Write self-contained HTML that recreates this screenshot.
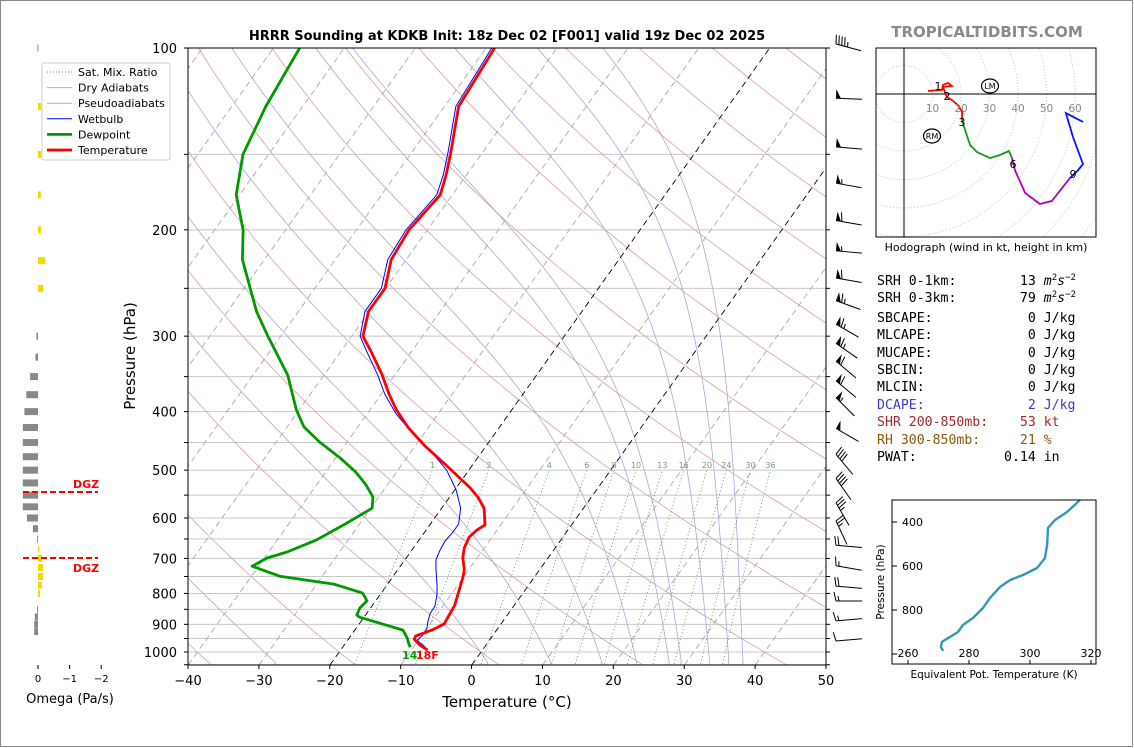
<!DOCTYPE html>
<html><head><meta charset="utf-8">
<style>
html,body{margin:0;padding:0;background:#fff;}
#wrap{position:relative;width:1134px;height:748px;overflow:hidden;}
svg text{font-family:"DejaVu Sans","Liberation Sans",sans-serif;}
.mono{font-family:"DejaVu Sans Mono","Liberation Mono",monospace;font-size:13.2px;}
.mono div{height:17.4px;line-height:17.4px;}
.mono sup{font-size:9px;line-height:0;vertical-align:5px;}
</style></head>
<body>
<div id="wrap">
<svg id="svg" width="1134" height="748" viewBox="0 0 1134 748" xmlns="http://www.w3.org/2000/svg">
<defs>
<clipPath id="mainclip"><rect x="188" y="48" width="638" height="617"/></clipPath>
<clipPath id="hodoclip"><rect x="876" y="48" width="220" height="189"/></clipPath>
</defs>
<rect x="0.5" y="0.5" width="1132" height="746" fill="#fff" stroke="#888"/>
<text x="507" y="40" font-size="13" font-weight="bold" text-anchor="middle">HRRR Sounding at KDKB Init: 18z Dec 02 [F001] valid 19z Dec 02 2025</text>
<text x="987" y="37" font-size="15" font-weight="bold" fill="#8a8a8a" text-anchor="middle">TROPICALTIDBITS.COM</text>
<g id="main"></g>
<g id="omega"></g>
<g id="hodo"></g>
<g id="thetae"></g>
<g id="legend"></g>
<g id="barbs"></g>
</svg>
<div class="mono" style="position:absolute;left:877px;top:273px;white-space:pre;color:#000"><div>SRH 0-1km:        13 <i>m</i><sup>2</sup><i>s</i><sup>−2</sup></div><div>SRH 0-3km:        79 <i>m</i><sup>2</sup><i>s</i><sup>−2</sup></div><div style="margin-top:2px">SBCAPE:            0 J/kg</div><div>MLCAPE:            0 J/kg</div><div>MUCAPE:            0 J/kg</div><div>SBCIN:             0 J/kg</div><div>MLCIN:             0 J/kg</div><div style="color:#3a3ad0">DCAPE:             2 J/kg</div><div style="color:#9a2a2a">SHR 200-850mb:    53 kt</div><div style="color:#8a5a10">RH 300-850mb:     21 %</div><div>PWAT:           0.14 in</div></div>
</div>
<script>
// ---- Sounding data ----
const tempP = [100,125,148,162,175,200,224,250,273,300,316,346,374,397,426,456,492,535,554,578,616,628,645,673,699,731,754,789,836,865,899,920,941,952,974,993];
const tempT = [-58.8,-58.0,-54.6,-52.9,-51.7,-52.6,-52.1,-50.1,-50.1,-48.4,-46.0,-42.0,-38.9,-36.3,-32.7,-28.6,-23.5,-18.0,-16.0,-14.0,-12.2,-12.8,-13.2,-12.8,-12.0,-10.6,-10.0,-9.3,-8.4,-8.2,-8.0,-9.1,-10.8,-10.7,-9.3,-7.7];
const dewP = [100,111,125,150,175,200,224,273,300,348,397,424,449,477,504,529,554,578,614,653,683,699,721,749,772,799,823,846,869,876,920,948,974,982];
const dewT = [-86.3,-85.8,-85.2,-83.6,-80.5,-76.0,-73.1,-65.9,-61.8,-55.1,-50.4,-47.6,-43.9,-39.4,-35.7,-33.0,-30.8,-29.8,-32.0,-34.5,-37.4,-39.6,-40.9,-36.0,-27.6,-22.6,-21.2,-21.5,-21.2,-20.6,-13.2,-11.8,-10.8,-10.4];
const wbP = [100,125,148,162,175,200,224,250,273,300,316,348,374,402,434,463,500,539,578,614,635,655,678,704,731,775,802,839,865,892,913,941,956,982];
const wbT = [-59.2,-58.4,-55.0,-53.3,-52.2,-53.0,-52.6,-50.6,-50.6,-48.8,-46.6,-42.4,-39.5,-36.1,-31.7,-27.5,-23.1,-19.8,-17.3,-16.0,-16.0,-16.2,-16.0,-15.6,-14.6,-12.9,-12.0,-11.1,-11.0,-10.5,-10.0,-9.9,-10.2,-8.3];
// wind barbs
const barbP = [100,123,148,170,196,220,244,266,291,313,335,361,385,433,478,524,575,616,676,731,790,836,902,974];
const barbSpd = [45,50,50,55,60,55,60,65,65,65,60,60,55,50,40,40,35,25,20,15,20,15,15,10];
const barbAng = [15,2,5,10,10,5,10,20,30,35,40,40,45,30,50,55,60,65,5,10,5,0,-5,-5];
// omega (Pa/s)
const omegaP = [100,125,150,175,200,225,250,300,325,350,375,400,425,450,475,500,525,550,575,600,625,650,675,700,725,750,775,800,850,875,900,925];
const omegaV = [0.02,-0.1,-0.1,-0.09,-0.1,-0.23,-0.16,0.05,0.08,0.25,0.37,0.43,0.48,0.48,0.48,0.48,0.48,0.48,0.48,0.35,0.16,0.03,-0.03,-0.13,-0.16,-0.16,-0.12,-0.06,0.03,0.1,0.12,0.12];
// hodograph (kt)
const hodoRedU=[8.4,13.3,13.7,15.4,16.8,13.7,15.1,16.8,18.9,20.4,20.4];
const hodoRedV=[1.1,1.4,3.2,3.9,2.8,2.5,-1.1,-2.1,-3.9,-6.3,-9.1];
const hodoGreenU=[20.4,21.1,23.2,25.6,30.2,33.7,36.8,37.9];
const hodoGreenV=[-9.1,-11.6,-17.9,-20.4,-22.5,-21.4,-20.0,-22.5];
const hodoMagU=[37.9,38.9,42.5,47.7,51.9,58.2];
const hodoMagV=[-22.5,-26.7,-34.7,-38.6,-37.5,-29.5];
const hodoBlueU=[58.2,61.1,62.8,59.3,56.8,62.8];
const hodoBlueV=[-29.5,-26.7,-24.6,-15.1,-6.7,-9.8];
// theta-e profile
const thetaK=[271.5,270.8,271.1,276.4,278.0,281.3,284.6,286.9,290.2,293.4,297.7,302.3,304.9,305.6,305.9,308.2,312.1,316.4];
const thetaP=[986,968,945,900,868,836,791,745,695,664,641,609,564,505,427,391,355,300];
// tick arrays
const pLabels=[100,200,300,400,500,600,700,800,900,1000];
const tLabels=[-40,-30,-20,-10,0,10,20,30,40,50];
const mixRatios=[1,2,4,6,8,10,13,16,20,24,30,36];
const moistStartT=[-27.8,2.1,11.0,18.2,23.1,27.7,29.4,33.4,36.1,38.1];

const NS="http://www.w3.org/2000/svg";
function mk(parent,tag,attrs,txt){const e=document.createElementNS(NS,tag);for(const k in attrs)e.setAttribute(k,attrs[k]);if(txt!==undefined)e.textContent=txt;parent.appendChild(e);return e;}
const yP=p=>48+262.3*Math.log(p/100);
const xT=(T,p)=>188+(T+40)*7.089+(665-yP(p))*0.713;
function pathFrom(pts){return pts.map((q,i)=>(i?'L':'M')+q[0].toFixed(1)+','+q[1].toFixed(1)).join('');}

const main=document.getElementById('main');
const bg=mk(main,'g',{'clip-path':'url(#mainclip)'});


for(let p=100;p<=1050;p+=50){const l=mk(bg,'line',{x1:188,x2:826,y1:yP(p),y2:yP(p),stroke:'#c8c8c8','stroke-width':1});

}
// dry adiabats
for(let th=-40;th<=220;th+=20){const pts=[];for(let p=1060;p>=95;p-=10){pts.push([xT((th+273.15)*Math.pow(p/1000,0.2857)-273.15,p),yP(p)]);}
const e=mk(bg,'path',{d:pathFrom(pts),fill:'none',stroke:'#d9a0a0','stroke-width':0.8});

}
// moist adiabats
function rs(T,p){const es=6.112*Math.exp(17.67*(T-273.15)/(T-29.65));return 0.622*es/(p-es);}
function dTdp(T,p){const r=rs(T,p);return (287*T+2.501e6*r)/(p*(1005+2.501e6*2.501e6*r*0.622/(287*T*T)));}
moistStartT.forEach(t0=>{const pts=[];let T=t0+273.15;const p0=1043;pts.push([xT(t0,1060),yP(1060)]);
pts.push([xT(t0,p0),yP(p0)]);
for(let p=p0;p>100;p-=4){const k1=dTdp(T,p);const k2=dTdp(T-k1*4,p-4);T-=2*(k1+k2);pts.push([xT(T-273.15,p-4),yP(p-4)]);}
const e=mk(bg,'path',{d:pathFrom(pts),fill:'none',stroke:'#a8a8dc','stroke-width':0.8});

});
// isotherms
for(let t=-120;t<=50;t+=10){const hl=(t===0||t===-20);const e=mk(bg,'line',{x1:xT(t,1050),y1:665,x2:xT(t,100),y2:48,stroke:hl?'#000':'#aaa','stroke-width':0.9,'stroke-dasharray':'6,4'});

}
// mixing ratio
mixRatios.forEach(w=>{const pts=[];for(let p=1060;p>=500;p-=10){const e=(w/1000)*p/(0.622+w/1000);const L=Math.log(e/6.112);pts.push([xT(243.5*L/(17.67-L),p),yP(p)]);}
const e=mk(bg,'path',{d:pathFrom(pts),fill:'none',stroke:'#5a9a5a','stroke-width':0.9,'stroke-dasharray':'1,2.5'});


const last=pts[pts.length-1];const tx=mk(main,'text',{x:last[0],y:last[1]-2,'font-size':8,fill:'#6aa06a','text-anchor':'middle'},String(w));

});
// profiles
function profile(P,T,col,w,name){const pts=P.map((p,i)=>[xT(T[i],p),yP(p)]);const e=mk(bg,'path',{d:pathFrom(pts),fill:'none',stroke:col,'stroke-width':w,'stroke-linejoin':'round'});

}
profile(dewP,dewT,'#009900',2.8,'dewpoint-line');
profile(wbP,wbT,'#0000ff',1,'wetbulb-line');
profile(tempP,tempT,'#ff0000',2.8,'temperature-line');
const fr=mk(main,'rect',{x:188,y:48,width:638,height:617,fill:'none',stroke:'#000','stroke-width':1});


for(let p=100;p<=1050;p+=50){mk(main,'line',{x1:184,x2:188,y1:yP(p),y2:yP(p),stroke:'#000'});mk(main,'line',{x1:826,x2:830,y1:yP(p),y2:yP(p),stroke:'#000'});}
pLabels.forEach(p=>{const t=mk(main,'text',{x:177,y:yP(p)+5,'font-size':13,'text-anchor':'end'},String(p));

});
tLabels.forEach(T=>{const x=188+(T+40)*7.089;mk(main,'line',{x1:x,x2:x,y1:665,y2:669,stroke:'#000'});const t=mk(main,'text',{x:x,y:685,'font-size':13,'text-anchor':'middle'},(T<0?'−':'')+Math.abs(T));

});
let t1=mk(main,'text',{x:507,y:707,'font-size':15,'text-anchor':'middle'},'Temperature (°C)');


let t2=mk(main,'text',{x:135,y:356,'font-size':15,'text-anchor':'middle',transform:'rotate(-90 135 356)'},'Pressure (hPa)');


let s1=mk(main,'text',{x:402,y:659,'font-size':11,'font-weight':'bold',fill:'#00a000'},'14');


let s2=mk(main,'text',{x:416,y:659,'font-size':11,'font-weight':'bold',fill:'#ff0000'},'18F');



// ---- Omega panel ----
const om=document.getElementById('omega');
const xO=v=>38-v*31.6;
omegaP.forEach((p,i)=>{const v=omegaV[i];const x0=Math.min(xO(v),38),w=Math.max(Math.abs(xO(v)-38),1);
const r=mk(om,'rect',{x:x0,y:yP(p)-3.5,width:w,height:7,fill:v>0?'#888':'#f5d800'});

});
[0,-1,-2].forEach(v=>{mk(om,'line',{x1:xO(v),x2:xO(v),y1:665,y2:669,stroke:'#000'});const t=mk(om,'text',{x:xO(v),y:682,'font-size':10,'text-anchor':'middle'},v===0?'0':'−'+Math.abs(v));

});
let ot=mk(om,'text',{x:70,y:703,'font-size':13,'text-anchor':'middle'},'Omega (Pa/s)');


[[492,488],[558,572]].forEach(a=>{const l=mk(om,'line',{x1:23,x2:98,y1:a[0],y2:a[0],stroke:'#ff0000','stroke-width':2,'stroke-dasharray':'6,3'});


const t=mk(om,'text',{x:73,y:a[1],'font-size':11,'font-weight':'bold',fill:'#ff0000'},'DGZ');

});

// ---- Legend ----
const lg=document.getElementById('legend');
mk(lg,'rect',{x:42,y:63,width:128,height:97,fill:'#fff',stroke:'#ccc',rx:2});
const legItems=[['Sat. Mix. Ratio','#5a9a5a',1,'1,2'],['Dry Adiabats','#d9a0a0',1,''],['Pseudoadiabats','#a8a8dc',1,''],['Wetbulb','#0000ff',1,''],['Dewpoint','#009900',2.8,''],['Temperature','#ff0000',2.8,'']];
legItems.forEach((it,i)=>{const y=72+i*15.6;mk(lg,'line',{x1:47,x2:72,y1:y,y2:y,stroke:it[1],'stroke-width':it[2],'stroke-dasharray':it[3]});
const t=mk(lg,'text',{x:78,y:y+4,'font-size':11},it[0]);

});

// ---- Wind barbs ----
const bb=document.getElementById('barbs');
barbP.forEach((p,i)=>{const a=barbAng[i]*Math.PI/180;const dx=Math.cos(a),dy=Math.sin(a);const nx=Math.sin(a),ny=-Math.cos(a);
const tx=836,ty=yP(p)-4;const g=mk(bb,'g',{});


mk(g,'line',{x1:tx,y1:ty,x2:tx+26*dx,y2:ty+26*dy,stroke:'#000','stroke-width':1});
let s=barbSpd[i],pos=0;
while(s>=50){mk(g,'polygon',{points:`${tx+pos*dx},${ty+pos*dy} ${tx+(pos+5)*dx},${ty+(pos+5)*dy} ${tx+pos*dx+nx*9},${ty+pos*dy+ny*9}`,fill:'#000'});pos+=6;s-=50;}
while(s>=10){mk(g,'line',{x1:tx+pos*dx,y1:ty+pos*dy,x2:tx+pos*dx+nx*9-dx*2,y2:ty+pos*dy+ny*9-dy*2,stroke:'#000','stroke-width':1});pos+=3;s-=10;}
if(s>=5){if(pos===0)pos=3;mk(g,'line',{x1:tx+pos*dx,y1:ty+pos*dy,x2:tx+pos*dx+nx*5-dx,y2:ty+pos*dy+ny*5-dy,stroke:'#000','stroke-width':1});}
});

// ---- Hodograph ----
const ho=document.getElementById('hodo');
const hx=u=>904+u*2.85,hy=v=>94-v*2.85;
const hc=mk(ho,'g',{'clip-path':'url(#hodoclip)'});
for(let r=10;r<=100;r+=10){const c=mk(hc,'circle',{cx:904,cy:94,r:r*2.85,fill:'none',stroke:'#bbb','stroke-width':0.8,'stroke-dasharray':'1,2'});

}
mk(hc,'line',{x1:876,x2:1096,y1:94,y2:94,stroke:'#000','stroke-width':1});
mk(hc,'line',{x1:904,x2:904,y1:48,y2:237,stroke:'#000','stroke-width':1});
for(let r=10;r<=60;r+=10){const t=mk(ho,'text',{x:hx(r),y:112,'font-size':10.5,fill:'#888','text-anchor':'middle'},String(r));

}
[[hodoRedU,hodoRedV,'#ff0000'],[hodoGreenU,hodoGreenV,'#1a9a1a'],[hodoMagU,hodoMagV,'#b000c0'],[hodoBlueU,hodoBlueV,'#1010ff']].forEach(s=>{
const e=mk(hc,'path',{d:pathFrom(s[0].map((u,i)=>[hx(u),hy(s[1][i])])),fill:'none',stroke:s[2],'stroke-width':1.8});

});
[['1',938,90],['2',947,100],['3',962,126],['6',1013,168],['9',1073,178]].forEach(a=>{const t=mk(ho,'text',{x:a[1],y:a[2],'font-size':11,'text-anchor':'middle'},a[0]);

});
[['LM',990,86],['RM',932,136]].forEach(a=>{mk(ho,'ellipse',{cx:a[1],cy:a[2],rx:8.5,ry:7,fill:'none',stroke:'#000','stroke-width':1.2});const t=mk(ho,'text',{x:a[1],y:a[2]+3,'font-size':8,'text-anchor':'middle'},a[0]);

});
mk(ho,'rect',{x:876,y:48,width:220,height:189,fill:'none',stroke:'#000','stroke-width':1});
let hl=mk(ho,'text',{x:986,y:251,'font-size':11,'text-anchor':'middle'},'Hodograph (wind in kt, height in km)');



// ---- Theta-e inset ----
const te=document.getElementById('thetae');
const ex=k=>908+(k-260)*3.05,ey=p=>522+(p-400)*0.22;
let tl=mk(te,'path',{d:pathFrom(thetaK.map((k,i)=>[ex(k),ey(thetaP[i])])),fill:'none',stroke:'#3399b0','stroke-width':2.4,'stroke-linejoin':'round'});


mk(te,'rect',{x:892,y:500,width:204,height:164,fill:'none',stroke:'#000','stroke-width':1});
[260,280,300,320].forEach(k=>{mk(te,'line',{x1:ex(k),x2:ex(k),y1:664,y2:660,stroke:'#000'});const t=mk(te,'text',{x:ex(k),y:657,'font-size':11,'text-anchor':'middle'},String(k));

});
[400,600,800,1000].forEach(p=>{mk(te,'line',{x1:892,x2:897,y1:ey(p),y2:ey(p),stroke:'#000'});if(p<1000){const t=mk(te,'text',{x:923,y:ey(p)+4,'font-size':11,'text-anchor':'end'},String(p));

}});
let tx1=mk(te,'text',{x:994,y:678,'font-size':10.5,'text-anchor':'middle'},'Equivalent Pot. Temperature (K)');


let ty1=mk(te,'text',{x:884,y:582,'font-size':10.5,'text-anchor':'middle',transform:'rotate(-90 884 582)'},'Pressure (hPa)');


</script>
</body></html>
